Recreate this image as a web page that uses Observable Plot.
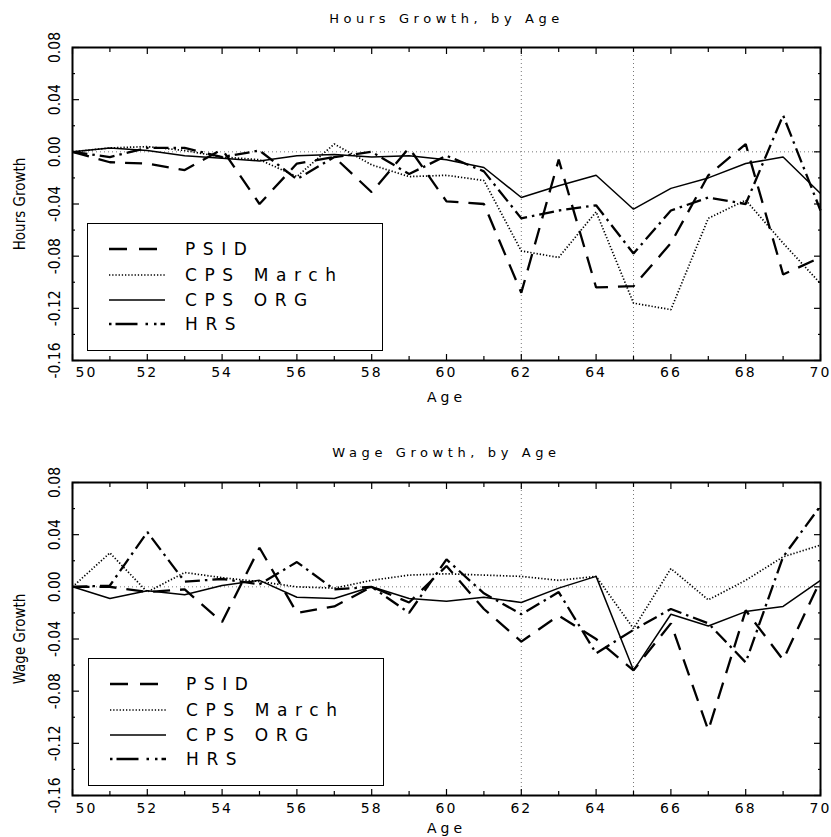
<!DOCTYPE html>
<html><head><meta charset="utf-8">
<script src="https://cdn.jsdelivr.net/npm/d3@7"></script>
<script src="https://cdn.jsdelivr.net/npm/@observablehq/plot@0.6"></script>
<style>
html,body{margin:0;padding:0;background:#fff;}
#page{position:relative;width:831px;height:837px;overflow:hidden;background:#fff}
.panel{position:relative;width:831px}
.panel svg{display:block}
.legend{position:absolute;border:1.6px solid #000;background:#fff;box-sizing:border-box;width:296px;height:128px}
.legend .row{position:absolute;left:0;width:100%;height:24px}
.legend .row svg{position:absolute;left:20px;top:0}
.legend .row span{position:absolute;left:97px;top:0;line-height:24px;font-family:"DejaVu Sans",sans-serif;font-size:17px;letter-spacing:7.6px;color:#000;white-space:nowrap}
</style>
</head><body>
<div id="page">
  <div id="top" class="panel" style="height:415px"></div>
  <div id="bot" class="panel" style="height:422px"></div>
</div>
<script>
// ---- data ----
const ages = [50,51,52,53,54,55,56,57,58,59,60,61,62,63,64,65,66,67,68,69,70];
const seriesNames = ["PSID", "CPS March", "CPS ORG", "HRS"];

const hoursPSID  = [0, -0.008, -0.009, -0.014, 0.002, -0.040, -0.009, -0.004, -0.031, 0.003, -0.038, -0.040, -0.108, -0.006, -0.104, -0.103, -0.070, -0.018, 0.006, -0.094, -0.081];
const hoursMarch = [0, 0.003, 0.004, 0.001, -0.004, -0.006, -0.019, 0.006, -0.010, -0.019, -0.018, -0.022, -0.076, -0.081, -0.046, -0.116, -0.121, -0.051, -0.037, -0.070, -0.101];
const hoursORG   = [0, 0.003, 0.001, -0.003, -0.005, -0.007, -0.003, -0.002, -0.004, -0.003, -0.006, -0.012, -0.035, -0.026, -0.018, -0.044, -0.028, -0.020, -0.009, -0.004, -0.032];
const hoursHRS   = [0, -0.004, 0.003, 0.003, -0.004, 0.001, -0.021, -0.004, 0.000, -0.017, -0.003, -0.015, -0.051, -0.045, -0.041, -0.078, -0.045, -0.035, -0.040, 0.028, -0.045];

const wagePSID  = [0, 0.000, -0.004, -0.002, -0.027, 0.030, -0.020, -0.015, 0.000, -0.012, 0.016, -0.017, -0.042, -0.022, -0.040, -0.064, -0.028, -0.110, -0.018, -0.056, 0.005];
const wageMarch = [0, 0.026, -0.004, 0.011, 0.007, 0.004, 0.000, -0.001, 0.005, 0.009, 0.010, 0.009, 0.008, 0.005, 0.008, -0.032, 0.014, -0.010, 0.005, 0.023, 0.032];
const wageORG   = [0, -0.009, -0.003, -0.006, 0.001, 0.005, -0.008, -0.009, 0.000, -0.009, -0.011, -0.008, -0.012, -0.001, 0.008, -0.064, -0.021, -0.030, -0.019, -0.015, 0.005];
const wageHRS   = [0, 0.001, 0.042, 0.004, 0.006, 0.002, 0.019, -0.002, 0.000, -0.020, 0.021, -0.005, -0.021, -0.004, -0.051, -0.033, -0.017, -0.028, -0.058, 0.023, 0.062];

const xTickLabels = [50,52,54,56,58,60,62,64,66,68,70];
const xMinorTicks = [51,53,55,57,59,61,63,65,67,69];
const yTickValues = [0.08, 0.04, 0.00, -0.04, -0.08, -0.12, -0.16];
const yTickLabels = ["0.08", "0.04", "0.00", "-0.04", "-0.08", "-0.12", "-0.16"];
const yMinorTicks = [0.06, 0.02, -0.02, -0.06, -0.10, -0.14];
const gridAges = [62, 65];

// ---- styles ----
const styles = {
  "PSID":      {dash: "17,10",        width: 2.3, legendDash: "18,12"},
  "CPS March": {dash: "1.3,1.9",      width: 1.7, legendDash: "1.3,1.9"},
  "CPS ORG":   {dash: null,           width: 1.5, legendDash: null},
  "HRS":       {dash: "15,5,2.5,5",   width: 2.3, legendDash: "2.5,4,22,8,2.5,6"}
};
const tickFont = '"Liberation Sans Narrow","DejaVu Sans Condensed",sans-serif';
const mainFont = '"DejaVu Sans",sans-serif';

function makeRows(vals) { return ages.map((a, i) => ({age: a, v: vals[i]})); }

function panel(opts) {
  const {title, ylabel, series, height, mTop, mBottom, titleDy, xlabDy, ageDy} = opts;
  const marks = [
    Plot.ruleX(gridAges, {stroke: "#777", strokeWidth: 1, strokeDasharray: "1,3"}),
    Plot.ruleY([0], {stroke: "#777", strokeWidth: 1, strokeDasharray: "1,3"})
  ];
  seriesNames.forEach((name, i) => {
    const st = styles[name];
    marks.push(Plot.line(makeRows(series[i]), {
      x: "age", y: "v", stroke: "#000", strokeWidth: st.width,
      strokeDasharray: st.dash || undefined, strokeLinecap: "butt", strokeLinejoin: "miter"
    }));
  });
  const tf = () => "";
  const firstLabel = xTickLabels.slice(0, 1);
  const otherLabels = xTickLabels.slice(1);
  marks.push(
    Plot.axisX({anchor: "bottom", ticks: xTickLabels, tickSize: -6, tickFormat: tf, label: null, stroke: "#000", strokeWidth: 1.2}),
    Plot.axisX({anchor: "bottom", ticks: xMinorTicks, tickSize: -4, tickFormat: tf, label: null, stroke: "#000", strokeWidth: 1.2}),
    Plot.axisX({anchor: "top", ticks: xTickLabels, tickSize: -6, tickFormat: tf, label: null, stroke: "#000", strokeWidth: 1.2}),
    Plot.axisX({anchor: "top", ticks: xMinorTicks, tickSize: -4, tickFormat: tf, label: null, stroke: "#000", strokeWidth: 1.2}),
    Plot.axisY({anchor: "left", ticks: yTickValues, tickSize: -7, tickFormat: tf, label: null, stroke: "#000", strokeWidth: 1.2}),
    Plot.axisY({anchor: "left", ticks: yMinorTicks, tickSize: -3, tickFormat: tf, label: null, stroke: "#000", strokeWidth: 1.2}),
    Plot.axisY({anchor: "right", ticks: yTickValues, tickSize: -7, tickFormat: tf, label: null, stroke: "#000", strokeWidth: 1.2}),
    Plot.axisY({anchor: "right", ticks: yMinorTicks, tickSize: -3, tickFormat: tf, label: null, stroke: "#000", strokeWidth: 1.2}),
    Plot.frame({stroke: "#000", strokeWidth: 2}),
    Plot.text(firstLabel, {x: d => d, text: d => String(d), frameAnchor: "bottom", dy: xlabDy, dx: 3, textAnchor: "start", lineAnchor: "middle",
      fontFamily: mainFont, fontSize: 14, fill: "#000"}),
    Plot.text(otherLabels, {x: d => d, text: d => String(d), frameAnchor: "bottom", dy: xlabDy, lineAnchor: "middle",
      fontFamily: mainFont, fontSize: 14, fill: "#000"}),
    Plot.text(yTickValues, {y: d => d, text: (d, i) => yTickLabels[i], frameAnchor: "left", dx: -17, rotate: -90,
      textAnchor: "middle", lineAnchor: "middle", fontFamily: tickFont, fontSize: 15.5, fill: "#000"}),
    Plot.text([title], {text: d => d, frameAnchor: "top", dy: titleDy, lineAnchor: "middle",
      fontFamily: mainFont, fontSize: 13, fill: "#000"}),
    Plot.text(["Age"], {text: d => d, frameAnchor: "bottom", dy: ageDy, lineAnchor: "middle",
      fontFamily: mainFont, fontSize: 14, fill: "#000"}),
    Plot.text([ylabel], {text: d => d, frameAnchor: "left", dx: -52, rotate: -90, textAnchor: "middle", lineAnchor: "middle",
      fontFamily: tickFont, fontSize: 15, fill: "#000"})
  );
  const svg = Plot.plot({
    width: 831, height,
    marginLeft: 72, marginRight: 11, marginTop: mTop, marginBottom: mBottom,
    x: {domain: [50, 70]},
    y: {domain: [-0.16, 0.08]},
    style: {background: "#fff", overflow: "visible"},
    marks
  });
  // letter spacing for the wide lettering of the original
  const ageStrings = new Set(xTickLabels.map(String));
  d3.select(svg).selectAll("text").each(function() {
    const t = this.textContent;
    if (t === title) this.style.letterSpacing = "4.6px";
    else if (t === "Age") this.style.letterSpacing = "4px";
    else if (ageStrings.has(t)) this.style.letterSpacing = "2px";
  });
  return svg;
}

function legend(container, left, top) {
  const box = document.createElement("div");
  box.className = "legend";
  box.style.left = left + "px";
  box.style.top = top + "px";
  const rowCenters = [25, 51, 76, 100];
  seriesNames.forEach((name, i) => {
    const st = styles[name];
    const row = document.createElement("div");
    row.className = "row";
    row.style.top = (rowCenters[i] - 12) + "px";
    const svg = d3.create("svg").attr("width", 60).attr("height", 24);
    svg.append("line").attr("x1", 1).attr("x2", 57).attr("y1", 12).attr("y2", 12)
      .attr("stroke", "#000").attr("stroke-width", st.width)
      .attr("stroke-dasharray", st.legendDash);
    row.appendChild(svg.node());
    const span = document.createElement("span");
    span.textContent = name;
    row.appendChild(span);
    box.appendChild(row);
  });
  container.appendChild(box);
}

const topEl = document.getElementById("top");
topEl.appendChild(panel({
  title: "Hours Growth, by Age", ylabel: "Hours Growth",
  series: [hoursPSID, hoursMarch, hoursORG, hoursHRS],
  height: 415, mTop: 47, mBottom: 55, titleDy: -29, xlabDy: 12, ageDy: 37
}));
legend(topEl, 87, 223);

const botEl = document.getElementById("bot");
botEl.appendChild(panel({
  title: "Wage Growth, by Age", ylabel: "Wage Growth",
  series: [wagePSID, wageMarch, wageORG, wageHRS],
  height: 422, mTop: 67, mBottom: 42, titleDy: -30, xlabDy: 13, ageDy: 33
}));
legend(botEl, 88, 243);
</script>
</body></html>
